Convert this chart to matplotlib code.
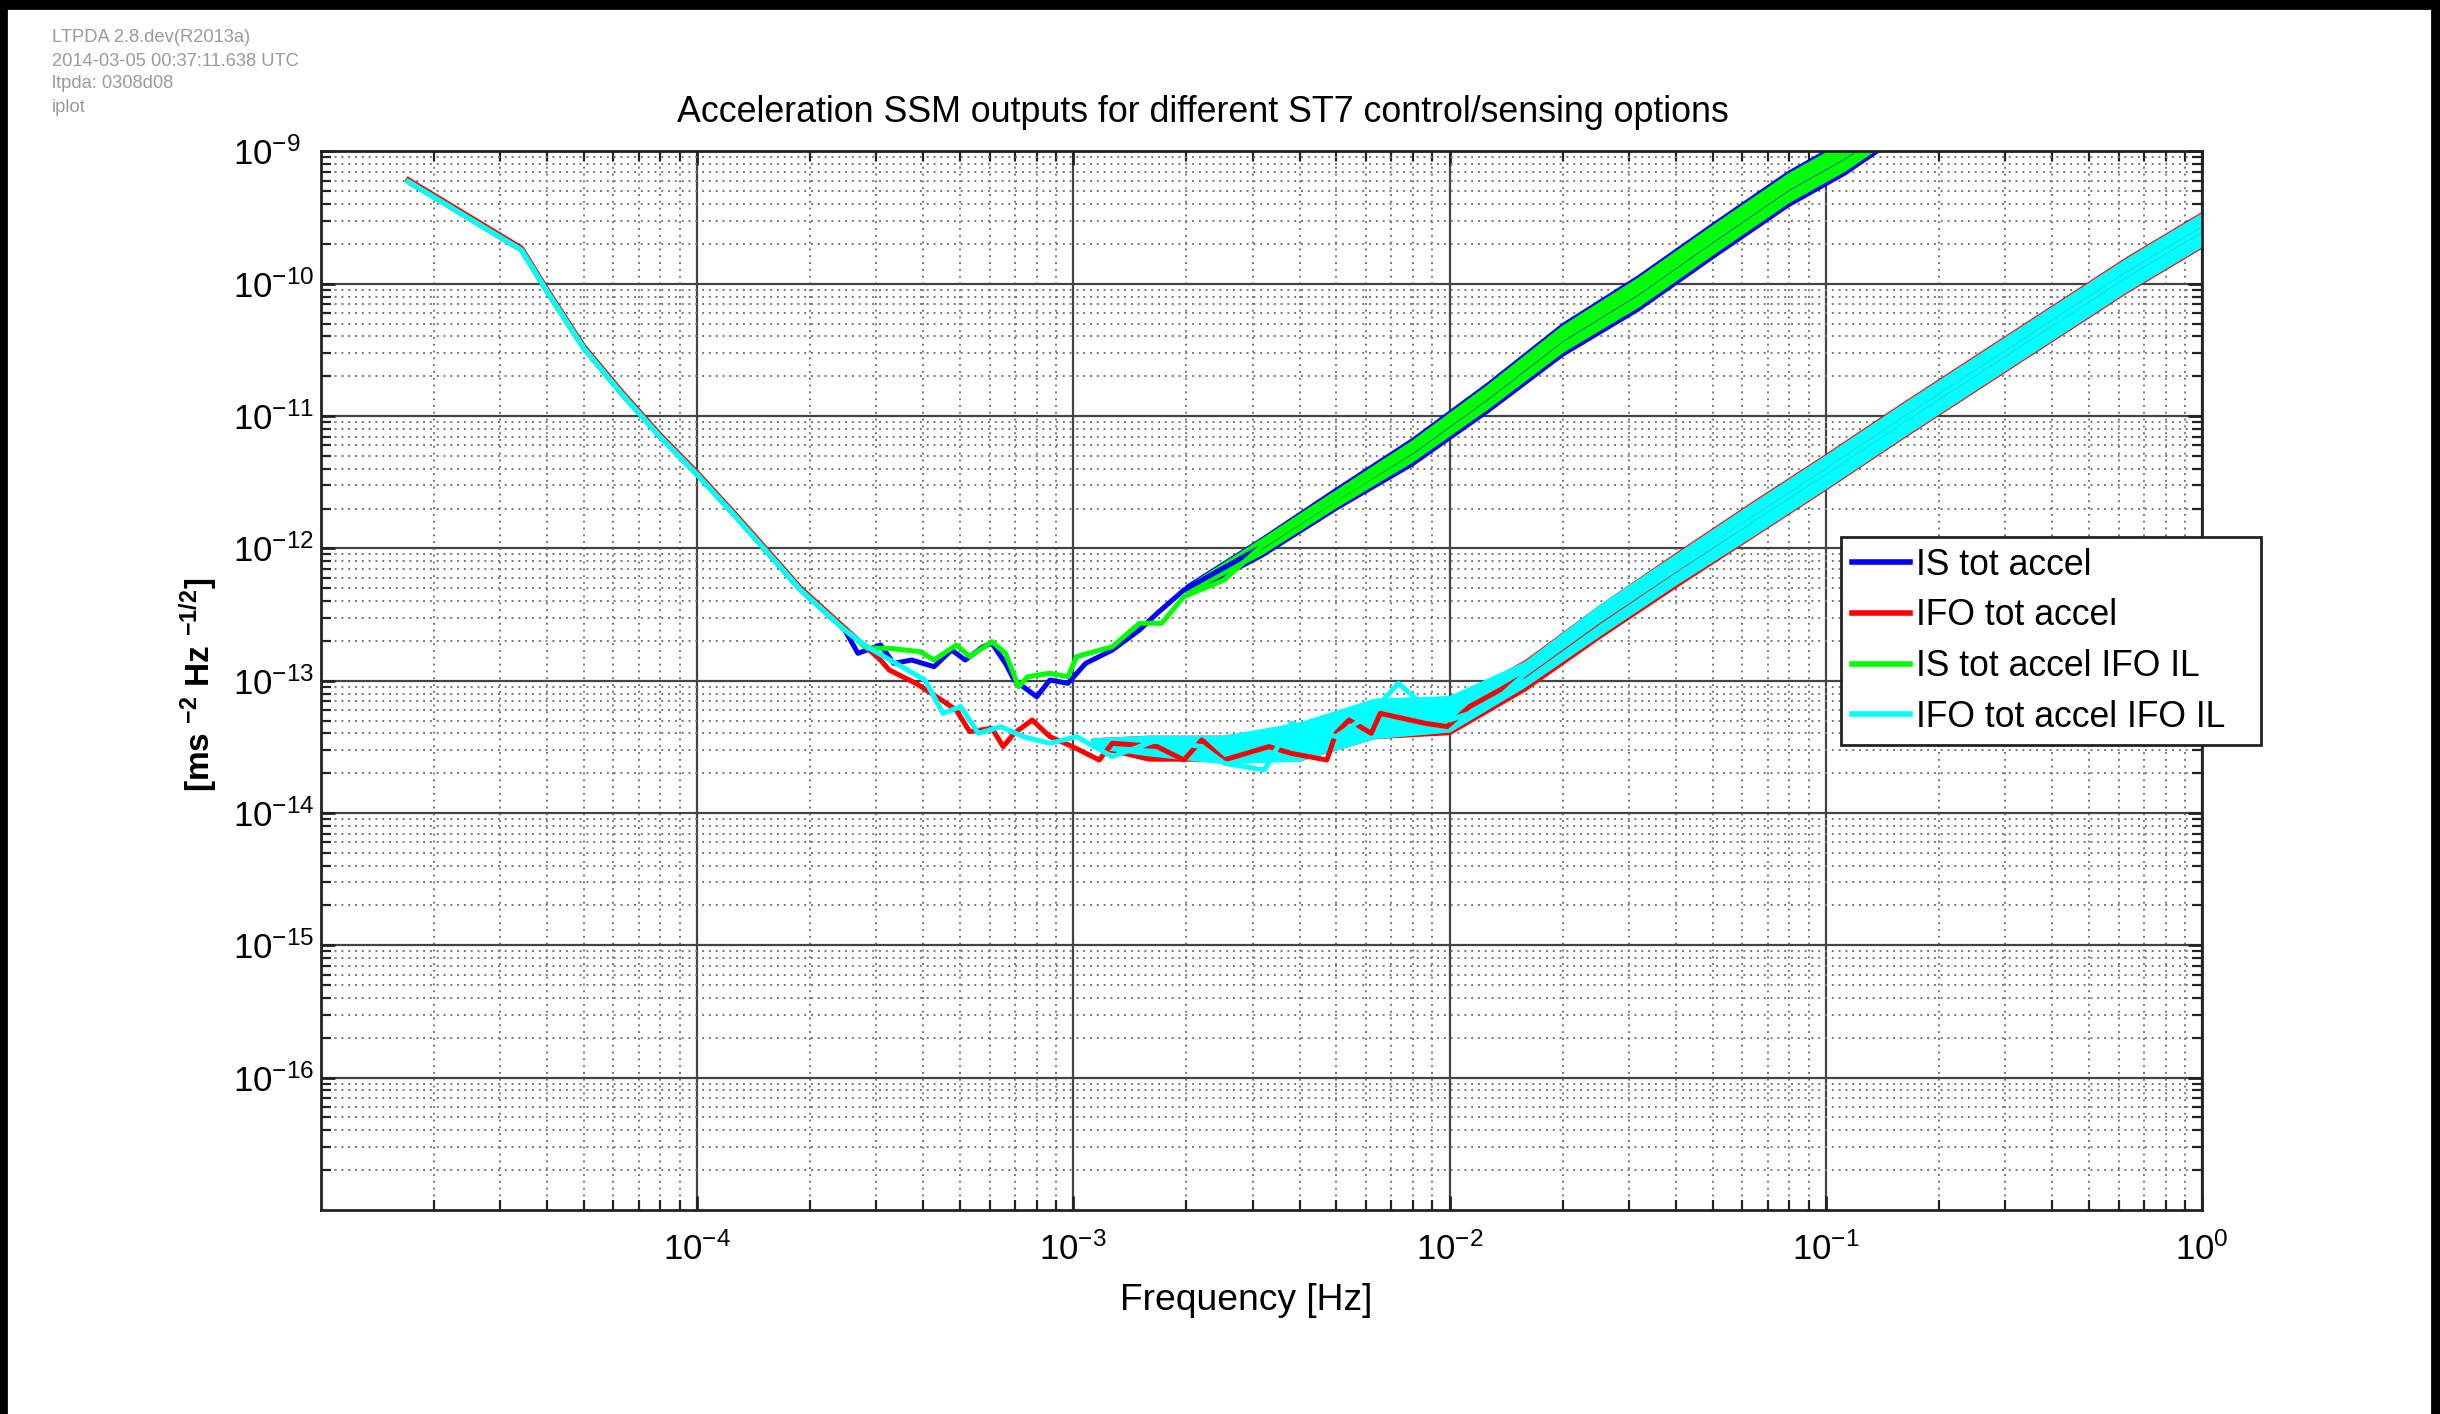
import numpy as np
import matplotlib
matplotlib.use("Agg")
import matplotlib.pyplot as plt
from matplotlib.patches import Rectangle
from matplotlib.ticker import LogLocator, LogFormatterSciNotation, NullFormatter

plt.rcParams['font.family'] = ['Liberation Sans', 'DejaVu Sans']
plt.rcParams['mathtext.fontset'] = 'custom'
plt.rcParams['mathtext.rm'] = 'Liberation Sans'
plt.rcParams['mathtext.it'] = 'Liberation Sans:italic'
plt.rcParams['mathtext.bf'] = 'Liberation Sans:bold'
plt.rcParams['mathtext.default'] = 'regular'

# ---------------------------------------------------------------------------
# Data: log10(frequency / Hz) and log10(ASD / m s^-2 Hz^-1/2)
# ---------------------------------------------------------------------------
labels = ["IS tot accel", "IFO tot accel", "IS tot accel IFO IL", "IFO tot accel IFO IL"]
colors = ["#0000ff", "#ff0000", "#00ff00", "#00ffff"]

# common low-frequency roll-off shared by all four outputs
low_logf = [-4.767, -4.466, -4.40, -4.30, -4.20, -4.10, -4.00, -3.90, -3.80, -3.726, -3.607]
low_logasd = [-9.228, -9.745, -10.05, -10.49, -10.83, -11.15, -11.44, -11.75, -12.07, -12.31, -12.617]

# mid-band traces
is_logf = [-3.572, -3.512, -3.477, -3.429, -3.370, -3.323, -3.287, -3.240, -3.216, -3.180,
           -3.157, -3.133, -3.097, -3.062, -3.014, -2.967, -2.896, -2.824, -2.777, -2.706, -2.658]
is_logasd = [-12.793, -12.730, -12.869, -12.844, -12.894, -12.768, -12.844, -12.743, -12.718, -12.869,
             -12.995, -13.045, -13.121, -12.995, -13.020, -12.869, -12.768, -12.617, -12.491, -12.315, -12.239]

ifo_logf = [-3.512, -3.489, -3.418, -3.370, -3.311, -3.275, -3.216, -3.186, -3.157, -3.109,
            -3.062, -3.002, -2.931, -2.896, -2.777, -2.706, -2.658, -2.599, -2.540, -2.480,
            -2.421, -2.326, -2.302, -2.267, -2.208, -2.184, -2.065, -2.006, -1.947, -1.866]
ifo_logasd = [-12.844, -12.919, -13.020, -13.108, -13.221, -13.385, -13.360, -13.498, -13.398, -13.297,
              -13.423, -13.498, -13.599, -13.473, -13.498, -13.599, -13.448, -13.599, -13.549, -13.498,
              -13.549, -13.599, -13.398, -13.297, -13.398, -13.247, -13.322, -13.347, -13.196, -13.070]

isil_logf = [-3.548, -3.489, -3.406, -3.370, -3.311, -3.275, -3.216, -3.180, -3.145, -3.121,
             -3.062, -3.014, -2.991, -2.896, -2.824, -2.765, -2.706, -2.599]
isil_logasd = [-12.755, -12.755, -12.781, -12.844, -12.730, -12.818, -12.705, -12.793, -13.045, -12.970,
               -12.944, -12.970, -12.818, -12.743, -12.566, -12.566, -12.365, -12.239]

ifoil_logf = [-3.548, -3.394, -3.346, -3.299, -3.252, -3.192, -3.133, -3.062, -2.991, -2.896,
              -2.777, -2.658, -2.599, -2.492, -2.421, -2.302, -2.208, -2.136, -2.065, -2.000,
              -1.947, -1.866]
ifoil_logasd = [-12.743, -12.995, -13.247, -13.196, -13.398, -13.347, -13.423, -13.473, -13.423, -13.574,
                -13.448, -13.498, -13.624, -13.675, -13.322, -13.423, -13.247, -13.020, -13.196, -13.297,
                -13.247, -13.121]

# high-frequency noise bands (upper / lower envelope)
is_band_logf = [-2.70, -2.50, -2.30, -2.10, -1.90, -1.70, -1.50, -1.30, -1.10, -0.95, -0.80]
is_band_hi = [-12.28, -11.92, -11.54, -11.17, -10.75, -10.30, -9.94, -9.54, -9.15, -8.91, -8.62]
is_band_lo = [-12.36, -12.06, -11.70, -11.37, -10.97, -10.54, -10.20, -9.80, -9.41, -9.17, -8.88]
isil_band_hi = [-12.29, -11.93, -11.56, -11.19, -10.77, -10.32, -9.96, -9.56, -9.17, -8.93, -8.64]
isil_band_lo = [-12.34, -12.04, -11.68, -11.34, -10.94, -10.51, -10.17, -9.77, -9.38, -9.14, -8.85]

ifo_band_logf = [-2.95, -2.8, -2.6, -2.4, -2.2, -2.0, -1.8, -1.6, -1.4, -1.2,
                 -1.0, -0.8, -0.6, -0.4, -0.2, 0.0]
ifo_band_hi = [-13.44, -13.42, -13.42, -13.34, -13.17, -13.16, -12.85, -12.43, -12.04, -11.66,
               -11.29, -10.91, -10.54, -10.17, -9.80, -9.46]
ifo_band_lo = [-13.50, -13.60, -13.60, -13.60, -13.43, -13.40, -13.07, -12.67, -12.29, -11.92,
               -11.55, -11.17, -10.80, -10.43, -10.06, -9.72]
ifoil_band_hi = [-13.44, -13.42, -13.42, -13.32, -13.14, -13.12, -12.86, -12.43, -12.05, -11.67,
                 -11.30, -10.92, -10.55, -10.18, -9.81, -9.47]
ifoil_band_lo = [-13.50, -13.56, -13.62, -13.60, -13.43, -13.38, -13.04, -12.65, -12.27, -11.91,
                 -11.54, -11.16, -10.79, -10.42, -10.05, -9.71]

series = [
    (is_logf, is_logasd, is_band_logf, is_band_lo, is_band_hi, 0.0),
    (ifo_logf, ifo_logasd, ifo_band_logf, ifo_band_lo, ifo_band_hi, 0.015),
    (isil_logf, isil_logasd, is_band_logf, isil_band_lo, isil_band_hi, 0.0),
    (ifoil_logf, ifoil_logasd, ifo_band_logf, ifoil_band_lo, ifoil_band_hi, 0.0),
]

# ---------------------------------------------------------------------------
fig = plt.figure(figsize=(12.2, 7.07), dpi=200)
fig.patch.set_facecolor("white")
ax = fig.add_axes([0.1314, 0.1443, 0.7711, 0.7486])

handles = []
for (tf, ta, bf, blo, bhi, off), lab, col in zip(series, labels, colors):
    lf = np.concatenate([low_logf, tf])
    la = np.concatenate([np.array(low_logasd) + off, ta])
    bf_ = np.asarray(bf)
    mid = 0.5 * (np.asarray(blo) + np.asarray(bhi))
    keep = bf_ > lf[-1]
    lf = np.concatenate([lf, bf_[keep]])
    la = np.concatenate([la, mid[keep]])
    h, = ax.plot(10.0 ** lf, 10.0 ** la, color=col, lw=1.8, label=lab)
    ax.fill_between(10.0 ** bf_, 10.0 ** np.asarray(blo), 10.0 ** np.asarray(bhi),
                    facecolor=col, edgecolor=col, lw=0.8)
    handles.append(h)

ax.set_xscale("log")
ax.set_yscale("log")
ax.set_xlim(1e-5, 1e0)
ax.set_ylim(1e-17, 1e-9)

ax.xaxis.set_major_locator(LogLocator(base=10, numticks=20))
ax.yaxis.set_major_locator(LogLocator(base=10, numticks=20))
ax.xaxis.set_minor_locator(LogLocator(base=10, subs=np.arange(2, 10), numticks=50))
ax.yaxis.set_minor_locator(LogLocator(base=10, subs=np.arange(2, 10), numticks=50))
ax.xaxis.set_major_formatter(LogFormatterSciNotation())
ax.yaxis.set_major_formatter(LogFormatterSciNotation())
ax.xaxis.set_minor_formatter(NullFormatter())
ax.yaxis.set_minor_formatter(NullFormatter())
# no labels at the left edge (10^-5) or the bottom edge (10^-17)
xt = ax.get_xticks()
ax.set_xticks([t for t in xt if 1.5e-5 < t <= 1.0])
yt = ax.get_yticks()
ax.set_yticks([t for t in yt if 1.5e-17 < t <= 1e-9])

ax.tick_params(which="both", direction="in", top=True, right=True, colors="#222222",
               labelcolor="black")
ax.tick_params(which="major", length=5, width=1.0, labelsize=12.5)
ax.tick_params(axis="y", which="major", pad=31.6)
ax.tick_params(axis="x", which="major", pad=8)
ax.tick_params(which="minor", length=3.5, width=0.8)
for lbl in ax.get_yticklabels():
    lbl.set_horizontalalignment("left")

ax.grid(True, which="major", color="#444444", lw=0.8, ls="-")
ax.grid(True, which="minor", color="#777777", lw=0.7, ls=(0, (1, 2.5)))
ax.set_axisbelow(True)
for sp in ax.spines.values():
    sp.set_linewidth(1.0)
    sp.set_color("#222222")

ax.set_xlabel("Frequency [Hz]", fontsize=13.4)
ax.xaxis.set_label_coords(0.492, -0.069)
fig.text(0.0815, 0.5156, r"[ms $^{-2}$ Hz $^{-1/2}$]", rotation=90, fontsize=12,
         fontweight="bold", ha="center", va="center")

fig.text(1203 / 2440, 1 - 112 / 1414,
         "Acceleration SSM outputs for different ST7 control/sensing options",
         fontsize=12.9, ha="center", va="center")

meta = ["LTPDA 2.8.dev(R2013a)", "2014-03-05 00:37:11.638 UTC", "ltpda: 0308d08", "iplot"]
for i, line in enumerate(meta):
    fig.text(52 / 2440, 1 - (38 + 23 * i) / 1414, line, fontsize=6.6, color="#9a9a9a",
             ha="left", va="center")

leg = ax.legend(handles=handles, loc="upper left",
                bbox_to_anchor=(1841 / 2440, 1 - 739 / 1414, 420 / 2440, 202 / 1414),
                bbox_transform=fig.transFigure, mode="expand", fontsize=12.8, frameon=True,
                fancybox=False, edgecolor="#222222", framealpha=1.0, borderaxespad=0,
                handlelength=1.65, handletextpad=0.15, labelspacing=0.44, borderpad=0.3)
leg.get_frame().set_linewidth(1.0)
for lh in leg.get_lines():
    lh.set_linewidth(2.0)

# black frame strips along the image edges
for rect in [(0, 1 - 8 / 1414, 1, 8 / 1414), (0, 0, 6 / 2440, 1), (1 - 8 / 2440, 0, 8 / 2440, 1)]:
    fig.patches.append(Rectangle(rect[:2], rect[2], rect[3], transform=fig.transFigure,
                                 color="black", zorder=10))

fig.savefig("out.png", dpi=200)
